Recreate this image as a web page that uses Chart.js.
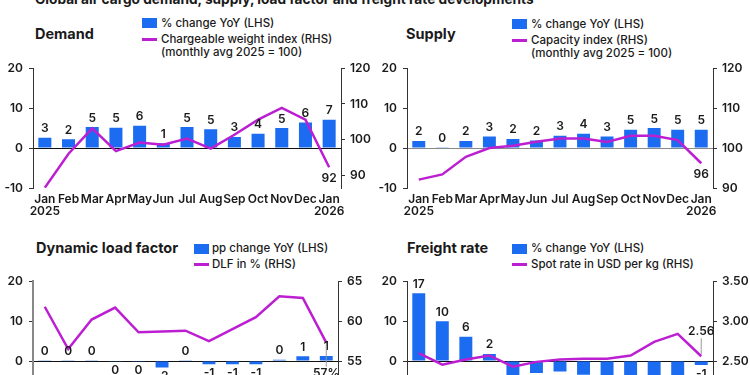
<!DOCTYPE html>
<html>
<head>
<meta charset="utf-8">
<script src="https://cdn.jsdelivr.net/npm/chart.js@4.4.1/dist/chart.umd.min.js"></script>
<style>
  html, body { margin: 0; padding: 0; width: 750px; height: 375px; overflow: hidden; background: #fff; }
  body { position: relative; font-family: Inter, "Noto Sans", sans-serif; color: #1a1a1a; }
  canvas { position: absolute; }
  .title { position: absolute; font-size: 13.7px; font-weight: 700; line-height: 16px; white-space: nowrap; }
  .head { position: absolute; font-size: 14.5px; font-weight: 700; line-height: 16px; white-space: nowrap; }
  .lg { position: absolute; font-size: 11.5px; font-weight: 500; line-height: 12.5px; white-space: nowrap; }
  .sq { position: absolute; width: 15px; height: 10px; background: #1c6cf2; }
  .ln { position: absolute; width: 15px; height: 3px; background: #bb1fd1; }
</style>
</head>
<body>
<div class="title" style="left:35px; top:-9px;">Global air cargo demand, supply, load factor and freight rate developments</div>

<!-- demand -->
<div class="head" style="left:35px; top:26px;">Demand</div>
<div class="sq" style="left:142px; top:18px;"></div>
<div class="lg" style="left:161px; top:17px;">% change YoY (LHS)</div>
<div class="ln" style="left:142px; top:38px;"></div>
<div class="lg" style="left:161px; top:33px;">Chargeable weight index (RHS)<br>(monthly avg 2025 = 100)</div>
<canvas id="demandChart" width="375" height="175" style="left:0; top:55px;"></canvas>

<!-- supply -->
<div class="head" style="left:406px; top:26px;">Supply</div>
<div class="sq" style="left:512px; top:19px;"></div>
<div class="lg" style="left:531px; top:18px;">% change YoY (LHS)</div>
<div class="ln" style="left:512px; top:39px;"></div>
<div class="lg" style="left:531px; top:34px;">Capacity index (RHS)<br>(monthly avg 2025 = 100)</div>
<canvas id="supplyChart" width="375" height="175" style="left:375px; top:55px;"></canvas>

<!-- load factor -->
<div class="head" style="left:36px; top:240px;">Dynamic load factor</div>
<div class="sq" style="left:194px; top:244px;"></div>
<div class="lg" style="left:212px; top:242px;">pp change YoY (LHS)</div>
<div class="ln" style="left:194px; top:263px;"></div>
<div class="lg" style="left:212px; top:258px;">DLF in % (RHS)</div>
<canvas id="dlfChart" width="375" height="175" style="left:0; top:268px;"></canvas>

<!-- freight rate -->
<div class="head" style="left:407px; top:240px;">Freight rate</div>
<div class="sq" style="left:512px; top:244px;"></div>
<div class="lg" style="left:531px; top:242px;">% change YoY (LHS)</div>
<div class="ln" style="left:512px; top:263px;"></div>
<div class="lg" style="left:531px; top:258px;">Spot rate in USD per kg (RHS)</div>
<canvas id="rateChart" width="375" height="175" style="left:375px; top:268px;"></canvas>

<script>
const months = [["Jan", "2025"], "Feb", "Mar", "Apr", "May", "Jun", "Jul", "Aug", "Sep", "Oct", "Nov", "Dec", ["Jan", "2026"]];

const demandYoY = [2.6, 2.2, 5.3, 5.1, 5.6, 1.2, 5.3, 4.7, 2.8, 3.6, 5.0, 6.4, 7.1];
const demandIndex = [86.6, 96.1, 103.2, 96.8, 99.2, 98.6, 100.3, 97.5, 101.4, 105.6, 108.9, 105.6, 92.3];

const supplyYoY = [1.8, 0.1, 1.8, 2.9, 2.3, 1.9, 3.1, 3.6, 2.9, 4.6, 5.0, 4.6, 4.6];
const supplyIndex = [92.1, 93.4, 97.8, 100.0, 100.6, 101.6, 102.4, 102.4, 101.5, 103.1, 103.1, 102.0, 96.2];

const dlfChange = [0.1, 0.1, 0.1, -0.2, -0.2, -1.6, 0.1, -0.8, -0.8, -0.8, 0.3, 1.2, 1.3];
const dlfLevel = [61.8, 56.5, 60.2, 61.7, 58.6, 58.7, 58.8, 57.5, 59.0, 60.5, 63.1, 62.9, 57.3];

const rateYoY = [17.0, 10.0, 6.1, 1.8, -6.0, -3.0, -2.6, -3.4, -4.5, -5.0, -4.5, -4.5, -1.0];
const spotRate = [2.60, 2.455, 2.52, 2.57, 2.43, 2.49, 2.52, 2.53, 2.53, 2.57, 2.74, 2.84, 2.56];

const BLUE = "#1c6cf2";
const MAGENTA = "#bb1fd1";
const INK = "#1a1a1a";

Chart.defaults.font.family = "Inter, 'Noto Sans', sans-serif";
Chart.defaults.color = INK;

// numbers over / under the bars, plus the label at the end of the line
const valueLabels = {
  id: "valueLabels",
  afterDatasetsDraw(chart, args, opts) {
    const ctx = chart.ctx;
    const barMeta = chart.getDatasetMeta(0);
    const vals = chart.data.datasets[0].data;
    ctx.save();
    ctx.font = "600 12px Inter, sans-serif";
    ctx.fillStyle = INK;
    ctx.textAlign = "center";
    barMeta.data.forEach(function (el, i) {
      const v = vals[i];
      const txt = String(Math.round(v));
      if (v >= 0) {
        ctx.textBaseline = "bottom";
        ctx.fillText(txt, el.x, el.y - 3);
      } else {
        ctx.textBaseline = "top";
        ctx.fillText(txt, el.x, el.y + 3);
      }
    });

    if (opts.endText) {
      const lineMeta = chart.getDatasetMeta(1);
      const pt = lineMeta.data[lineMeta.data.length - 1];
      const ty = pt.y + opts.endOffset;
      if (opts.leader) {
        ctx.strokeStyle = "#999";
        ctx.lineWidth = 1;
        ctx.beginPath();
        if (opts.endOffset > 0) {
          ctx.moveTo(pt.x, pt.y + 2);
          ctx.lineTo(pt.x, ty - 7);
        } else {
          ctx.moveTo(pt.x, pt.y - 2);
          ctx.lineTo(pt.x, ty + 7);
        }
        ctx.stroke();
      }
      ctx.textBaseline = "middle";
      ctx.fillText(opts.endText, pt.x, ty);
    }
    ctx.restore();
  },
};

function makeChart(id, bars, line, cfg) {
  return new Chart(document.getElementById(id), {
    type: "bar",
    data: {
      labels: months,
      datasets: [
        {
          type: "bar",
          data: bars,
          backgroundColor: BLUE,
          barPercentage: 0.55,
          categoryPercentage: 1,
          yAxisID: "y",
          order: 2,
        },
        {
          type: "line",
          data: line,
          borderColor: MAGENTA,
          borderWidth: 2.5,
          pointRadius: 0,
          tension: 0,
          yAxisID: "y1",
          order: 1,
        },
      ],
    },
    options: {
      responsive: false,
      animation: false,
      devicePixelRatio: 1,
      layout: { padding: { top: 10, left: 0, right: 0, bottom: 0 } },
      plugins: {
        legend: { display: false },
        tooltip: { enabled: false },
        valueLabels: cfg.endLabel,
      },
      scales: {
        x: {
          grid: { display: false, drawTicks: false },
          border: { display: false },
          ticks: {
            autoSkip: false,
            maxRotation: 0,
            padding: 5,
            font: { size: 12, weight: "600", lineHeight: 1 },
          },
          afterFit: function (s) { s.height = 42; },
        },
        y: {
          position: "left",
          min: -10,
          max: 20,
          ticks: { stepSize: 10, padding: 6, font: { size: 12, weight: "600" } },
          grid: {
            drawOnChartArea: true,
            color: function (c) { return c.tick && c.tick.value === 0 ? cfg.zeroColor : "rgba(0,0,0,0)"; },
            tickColor: "#333",
            tickLength: 4,
          },
          border: { display: true, color: cfg.leftBorder || "#333", width: cfg.leftBorderWidth || 1 },
          afterFit: function (s) { s.width = cfg.leftWidth; },
        },
        y1: {
          position: "right",
          min: cfg.rMin,
          max: cfg.rMax,
          ticks: {
            stepSize: cfg.rStep,
            padding: 5,
            font: { size: 12, weight: "600" },
            callback: cfg.rFormat || function (v) { return v; },
          },
          afterBuildTicks: cfg.rTicks
            ? function (s) { s.ticks = cfg.rTicks.map(function (v) { return { value: v }; }); }
            : undefined,
          grid: { drawOnChartArea: false, tickColor: "#333", tickLength: 4 },
          border: { display: true, color: "#333" },
          afterFit: function (s) { s.width = cfg.rightWidth; },
        },
      },
    },
    plugins: [valueLabels],
  });
}

makeChart("demandChart", demandYoY, demandIndex, {
  leftWidth: 33, rightWidth: 34,
  rMin: 86.5, rMax: 120, rStep: 10, rTicks: [90, 100, 110, 120],
  zeroColor: "#111",
  endLabel: { endText: "92", endOffset: 11, leader: false },
});

makeChart("supplyChart", supplyYoY, supplyIndex, {
  leftWidth: 32, rightWidth: 37,
  rMin: 90, rMax: 120, rStep: 10,
  zeroColor: "#888",
  endLabel: { endText: "96", endOffset: 11, leader: false },
});

makeChart("dlfChart", dlfChange, dlfLevel, {
  leftWidth: 33, rightWidth: 37,
  rMin: 50, rMax: 65, rStep: 5,
  zeroColor: "#111",
  leftBorder: "#888", leftBorderWidth: 2,
  endLabel: { endText: "57%", endOffset: 31, leader: true },
});

makeChart("rateChart", rateYoY, spotRate, {
  leftWidth: 32, rightWidth: 37,
  rMin: 2.0, rMax: 3.5, rStep: 0.5,
  rFormat: function (v) { return Number(v).toFixed(2); },
  zeroColor: "#111",
  endLabel: { endText: "2.56", endOffset: -25, leader: true },
});
</script>
</body>
</html>
